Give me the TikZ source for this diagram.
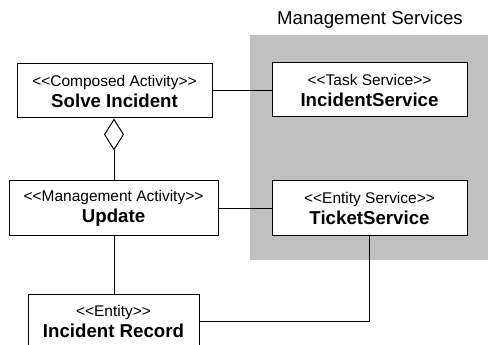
\documentclass[tikz,border=0pt]{standalone}
\usepackage{fontspec}
\newfontfamily\lsans{Liberation Sans}
\usetikzlibrary{arrows.meta}
\begin{document}
\begin{tikzpicture}[x=0.75pt,y=-0.75pt,
  umlbox/.style={draw=black,line width=0.75pt,fill=white,inner sep=0pt,align=center,
    minimum height=40.5pt,font=\lsans\fontsize{11.6pt}{15.75pt}\selectfont},
  conn/.style={draw=black,line width=0.75pt},
  bt/.style={font=\lsans\fontsize{14pt}{15.75pt}\selectfont\bfseries}]
\useasboundingbox (0,0) rectangle (488,345);
\clip (0,0) rectangle (488,345);
\fill[fill={rgb,255:red,192;green,192;blue,192}] (250,35) rectangle (488,260);
\node[anchor=base,font=\lsans\fontsize{14pt}{16pt}\selectfont] (title) at (370,25) {Management Services};
\node[umlbox,minimum width=146.25pt] (solve) at (114.5,91) {<<Composed Activity>>\\{\fontsize{14pt}{15.75pt}\selectfont\bfseries Solve Incident}};
\node[umlbox,minimum width=146.25pt] (isvc) at (369.5,90) {<<Task Service>>\\{\fontsize{14pt}{15.75pt}\selectfont\bfseries IncidentService}};
\node[umlbox,minimum width=156.75pt] (update) at (113.5,208) {<<Management Activity>>\\{\fontsize{14pt}{15.75pt}\selectfont\bfseries Update}};
\node[umlbox,minimum width=146.25pt] (ticket) at (369.5,208) {<<Entity Service>>\\{\fontsize{14pt}{15.75pt}\selectfont\bfseries TicketService}};
\node[umlbox,minimum width=128.25pt] (record) at (113.5,321) {<<Entity>>\\{\fontsize{14pt}{15.75pt}\selectfont\bfseries Incident Record}};
\draw[conn] (solve.east) -- (solve.east -| isvc.west);
\draw[conn] (update) -- (ticket);
\draw[conn,{Diamond[open,length=24pt,width=15pt]}-] (solve.south -| 114,0) -- (update.north -| 114,0);
\draw[conn] (update.south -| 114,0) -- (record.north -| 114,0);
\draw[conn] (ticket.south) |- (record.east);
\end{tikzpicture}
\end{document}
